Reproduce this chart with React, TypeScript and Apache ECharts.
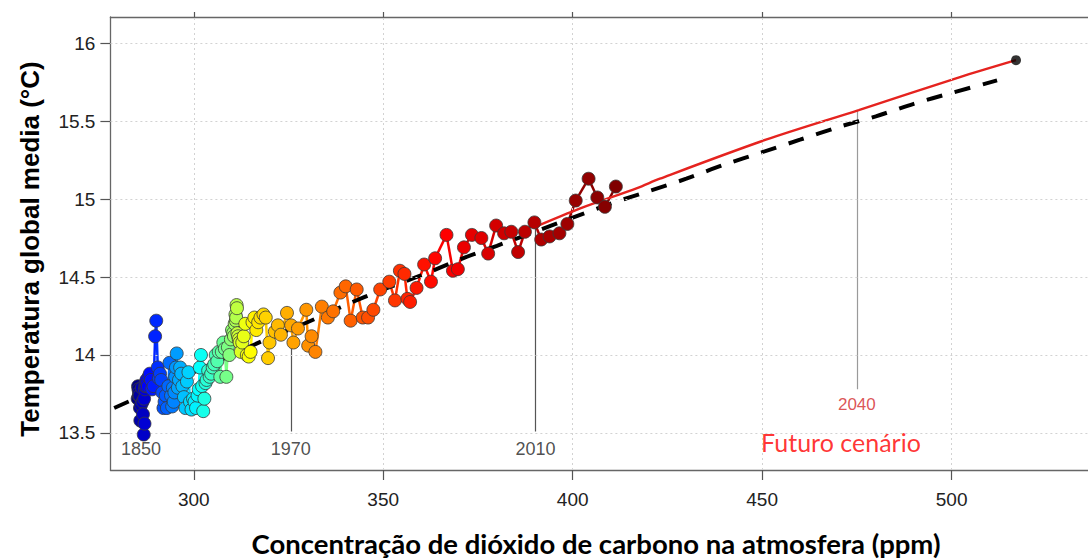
import React, { useEffect, useRef } from "react";
import * as echarts from "echarts";

// ---------- data ----------
const startYear = 1850;

// CO2 concentration (ppm), one value per year 1850..2019
const co2 = [
  285.2, 285.3, 285.4, 285.5, 285.6, 285.7, 285.8, 285.9, 286.1, 286.3,
  286.5, 286.6, 286.8, 286.9, 287.0, 287.1, 287.2, 287.3, 287.4, 287.5,
  287.7, 287.9, 288.1, 288.4, 288.7, 289.0, 289.4, 289.8, 290.1, 290.5,
  290.8, 291.1, 291.4, 291.7, 292.0, 292.3, 292.6, 292.9, 293.3, 293.6,
  294.0, 294.3, 294.5, 294.7, 294.9, 295.1, 295.3, 295.5, 295.8, 296.1,
  296.4, 296.7, 297.0, 297.4, 297.8, 298.2, 298.6, 299.0, 299.4, 299.8,
  300.2, 300.6, 301.0, 301.3, 301.6, 301.9, 302.2, 302.5, 302.8, 303.1,
  303.4, 303.8, 304.2, 304.6, 305.0, 305.4, 305.8, 306.2, 306.6, 307.0,
  307.4, 307.8, 308.2, 308.6, 309.0, 309.4, 309.8, 310.1, 310.4, 310.6,
  310.8, 311.0, 311.1, 311.2, 311.3, 311.4, 311.5, 311.7, 311.9, 312.1,
  312.4, 312.8, 313.2, 313.6, 314.0, 314.5, 315.0, 315.5, 316.0, 316.5,
  317.0, 317.6, 318.4, 319.0, 319.6, 320.0, 321.4, 322.2, 323.0, 324.6,
  325.7, 326.3, 327.5, 329.7, 330.2, 331.1, 332.1, 333.8, 335.4, 336.8,
  338.7, 340.1, 341.4, 343.0, 344.6, 346.0, 347.4, 349.2, 351.6, 353.1,
  354.4, 355.6, 356.4, 357.1, 358.8, 360.8, 362.6, 363.7, 366.7, 368.4,
  369.7, 371.3, 373.4, 375.9, 377.7, 379.8, 381.9, 383.8, 385.6, 387.4,
  389.9, 391.7, 393.9, 396.5, 398.6, 400.8, 404.2, 406.5, 408.5, 411.4,
];

// Global mean temperature (°C), one value per year 1850..2019
const temp = [
  13.72, 13.80, 13.78, 13.74, 13.76, 13.74, 13.66, 13.58, 13.68, 13.79,
  13.70, 13.62, 13.49, 13.72, 13.56, 13.78, 13.80, 13.82, 13.80, 13.84,
  13.82, 13.80, 13.86, 13.88, 13.84, 13.78, 13.80, 14.12, 14.22, 13.92,
  13.85, 13.88, 13.84, 13.76, 13.66, 13.70, 13.74, 13.66, 13.80, 13.95,
  13.74, 13.67, 13.79, 13.70, 13.76, 13.86, 13.92, 14.01, 13.79, 13.84,
  13.92, 13.88, 13.80, 13.73, 13.66, 13.83, 13.89, 13.70, 13.65, 13.72,
  13.70, 13.66, 13.74, 13.78, 13.92, 14.00, 13.80, 13.64, 13.72, 13.82,
  13.84, 13.90, 13.86, 13.88, 13.92, 13.94, 14.00, 13.96, 14.02, 13.86,
  14.02, 14.08, 14.04, 13.86, 14.05, 14.00, 14.10, 14.16, 14.14, 14.12,
  14.20, 14.26, 14.22, 14.24, 14.32, 14.30, 14.14, 14.12, 14.10, 14.08,
  14.02, 14.08, 14.12, 14.20, 14.00, 13.99, 14.02, 14.21, 14.24, 14.16,
  14.21, 14.24, 14.26, 14.24, 13.98, 14.08, 14.15, 14.19, 14.13, 14.27,
  14.19, 14.08, 14.17, 14.29, 14.06, 14.12, 14.02, 14.31, 14.24, 14.28,
  14.40, 14.44, 14.22, 14.42, 14.24, 14.24, 14.29, 14.42, 14.47, 14.35,
  14.54, 14.52, 14.36, 14.34, 14.43, 14.58, 14.47, 14.62, 14.77, 14.54,
  14.55, 14.69, 14.77, 14.75, 14.65, 14.83, 14.78, 14.79, 14.66, 14.79,
  14.85, 14.74, 14.76, 14.78, 14.84, 14.99, 15.13, 15.01, 14.95, 15.08,
];

// Dashed fitted relation
const trendCo2 = [279, 290, 300, 310, 320, 330, 340, 350, 360, 370, 380, 390, 400, 410, 420, 430, 440, 450, 460, 470, 480, 490, 500, 512];
const trendTemp = [13.66, 13.78, 13.89, 14.0, 14.11, 14.21, 14.32, 14.42, 14.51, 14.61, 14.7, 14.79, 14.88, 14.97, 15.05, 15.13, 15.22, 15.3, 15.38, 15.46, 15.53, 15.61, 15.68, 15.76];

// Future scenario (red line)
const futureCo2 = [390, 402, 417, 423, 451, 475.5, 502, 517];
const futureTemp = [14.82, 14.94, 15.07, 15.13, 15.38, 15.57, 15.78, 15.89];

// Year markers
const markLabels = ["1970", "2010", "2040"];
const markCo2 = [325.6, 390.2, 475];
const markTop = [14.05, 14.81, 15.57];
const markBottom = [13.51, 13.51, 13.78];

const xTicks = [300, 350, 400, 450, 500];
const yTicks = [13.5, 14, 14.5, 15, 15.5, 16];

const xTitle = "Concentração de dióxido de carbono na atmosfera (ppm)";
const yTitle = "Temperatura global media (°C)";
const futureText = "Futuro cenário";

// ---------- helpers ----------
function jet(f: number): string {
  const c = (v: number) => Math.max(0, Math.min(1, v));
  const r = c(1.5 - Math.abs(4 * f - 3));
  const g = c(1.5 - Math.abs(4 * f - 2));
  const b = c(1.5 - Math.abs(4 * f - 1));
  return `rgb(${Math.round(r * 255)},${Math.round(g * 255)},${Math.round(b * 255)})`;
}

export default function App() {
  const ref = useRef<HTMLDivElement>(null);

  useEffect(() => {
    if (!ref.current) return;
    const chart = echarts.init(ref.current, undefined, { renderer: "svg" });
    const n = co2.length;
    const colors = co2.map((_, i) => jet(i / (n - 1)));

    const points = co2.map((x, i) => ({
      value: [x, temp[i], startYear + i],
      itemStyle: { color: colors[i] },
    }));
    const segments = co2.slice(1).map((x, k) => ({
      coords: [
        [co2[k], temp[k]],
        [x, temp[k + 1]],
      ],
      lineStyle: { color: colors[k + 1] },
    }));
    const markSegs = markCo2.map((x, i) => ({
      coords: [
        [x, markTop[i]],
        [x, markBottom[i]],
      ],
      lineStyle: { color: i === 2 ? "#9a9a9a" : "#555555" },
    }));

    const labelFont = "'Liberation Sans', Arial, sans-serif";

    const option: any = {
      animation: false,
      backgroundColor: "#ffffff",
      grid: { left: 110.4, top: 17, width: 980.4, height: 453, containLabel: false },
      xAxis: [
        {
          type: "value",
          min: 278,
          max: 536,
          position: "bottom",
          axisLine: { show: true, lineStyle: { color: "#666", width: 1.3 } },
          axisTick: { show: true, customValues: xTicks, length: 10, lineStyle: { color: "#555", width: 1.2 } },
          axisLabel: { show: true, customValues: xTicks, fontSize: 19, color: "#222", margin: 20, fontFamily: labelFont },
          splitLine: { show: false },
        },
        {
          type: "value",
          min: 278,
          max: 536,
          position: "top",
          axisLine: { show: true, lineStyle: { color: "#666", width: 1.3 } },
          axisTick: { show: true, customValues: xTicks, length: 5, lineStyle: { color: "#555", width: 1.2 } },
          axisLabel: { show: false },
          splitLine: { show: false },
        },
      ],
      yAxis: [
        {
          type: "value",
          min: 13.2628,
          max: 16.1667,
          axisLine: { show: true, lineStyle: { color: "#666", width: 1.3 } },
          axisTick: { show: true, customValues: yTicks, length: 10, lineStyle: { color: "#555", width: 1.2 } },
          axisLabel: { show: true, customValues: yTicks, fontSize: 19, color: "#222", margin: 15, fontFamily: labelFont },
          splitLine: { show: false },
        },
      ],
      graphic: [
        {
          type: "text",
          x: 30,
          y: 249,
          rotation: Math.PI / 2,
          style: {
            text: yTitle,
            fill: "#000",
            font: "bold 26px 'Liberation Sans', Arial, sans-serif",
            lineHeight: 26,
            align: "center",
            verticalAlign: "middle",
          },
        },
        {
          type: "text",
          x: 596,
          y: 543,
          style: {
            text: xTitle,
            fill: "#000",
            font: "bold 27.5px Lato, 'Open Sans', sans-serif",
            lineHeight: 27,
            align: "center",
            verticalAlign: "middle",
          },
        },
      ],
      series: [
        {
          name: "marks",
          type: "lines",
          coordinateSystem: "cartesian2d",
          silent: true,
          z: 1,
          lineStyle: { width: 1.2, opacity: 1 },
          data: markSegs,
        },
        {
          name: "segments",
          type: "lines",
          coordinateSystem: "cartesian2d",
          silent: true,
          z: 2,
          lineStyle: { width: 2.5, opacity: 1 },
          data: segments,
        },
        {
          name: "trend",
          type: "line",
          z: 3,
          silent: true,
          showSymbol: false,
          symbol: "none",
          smooth: 0.3,
          data: trendCo2.map((x, i) => [x, trendTemp[i]]),
          lineStyle: { color: "#000", width: 4, type: [16, 13] },
          markLine: {
            silent: true,
            symbol: "none",
            label: { show: false },
            lineStyle: { color: "#d2d2d2", width: 1, type: [2, 3] },
            data: [
              ...xTicks.map((v) => ({ xAxis: v })),
              ...yTicks.map((v) => ({ yAxis: v })),
            ],
          },
        },
        {
          name: "future",
          type: "line",
          z: 4,
          silent: true,
          showSymbol: false,
          symbol: "none",
          smooth: 0.3,
          data: futureCo2.map((x, i) => [x, futureTemp[i]]),
          lineStyle: { color: "#e5231f", width: 2.4 },
        },
        {
          name: "points",
          type: "scatter",
          z: 5,
          silent: true,
          symbolSize: 13,
          itemStyle: { borderColor: "#3a3a3a", borderWidth: 0.8, opacity: 1 },
          data: points,
        },
        {
          name: "end",
          type: "scatter",
          z: 6,
          silent: true,
          symbolSize: 10,
          itemStyle: { color: "#000" },
          data: [[futureCo2[futureCo2.length - 1], futureTemp[futureTemp.length - 1]]],
        },
        {
          name: "labels",
          type: "scatter",
          z: 7,
          silent: true,
          symbolSize: 1,
          itemStyle: { color: "rgba(0,0,0,0)" },
          data: [
            { value: [286.1, 13.4], label: { show: true, formatter: "1850", color: "#222", fontSize: 18, fontFamily: labelFont } },
            { value: [markCo2[0], 13.4], label: { show: true, formatter: markLabels[0], color: "#222", fontSize: 18, fontFamily: labelFont } },
            { value: [markCo2[1], 13.4], label: { show: true, formatter: markLabels[1], color: "#222", fontSize: 18, fontFamily: labelFont } },
            { value: [markCo2[2], 13.68], label: { show: true, formatter: markLabels[2], color: "#d3282a", fontSize: 17, fontFamily: labelFont } },
            { value: [470.8, 13.445], label: { show: true, formatter: futureText, color: "#ff0000", fontSize: 25, fontFamily: "Lato, 'Open Sans', sans-serif" } },
          ],
          label: { position: "inside" },
        },
      ],
    };

    chart.setOption(option);
    return () => chart.dispose();
  }, []);

  return (
    <div
      ref={ref}
      style={{ position: "absolute", left: 0, top: 0, width: 1088, height: 559, background: "#fff" }}
    />
  );
}
